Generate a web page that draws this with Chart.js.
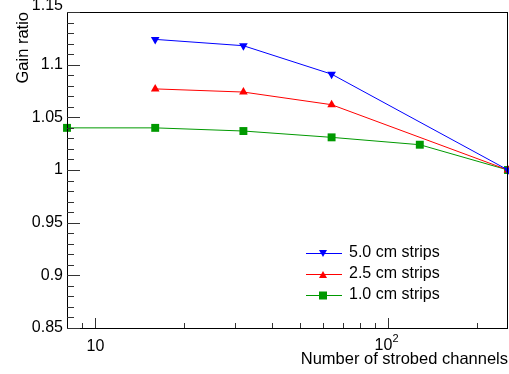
<!DOCTYPE html>
<html>
<head>
<meta charset="utf-8">
<script src="https://cdn.jsdelivr.net/npm/chart.js@4/dist/chart.umd.min.js"></script>
<style>
    html, body { margin: 0; padding: 0; background: #fff; }
    #wrap { width: 509px; height: 374px; position: relative; }
</style>
</head>
<body>
<div id="wrap"><canvas id="gainChart"></canvas></div>
<script>
// Data
const channels50 = [16, 32, 64, 256];
const gain50 = [1.124, 1.118, 1.091, 1.0];
const channels25 = [16, 32, 64, 256];
const gain25 = [1.077, 1.074, 1.062, 1.0];
const channels10 = [8, 16, 32, 64, 128, 256];
const gain10 = [1.040, 1.040, 1.037, 1.031, 1.024, 1.0];

const seriesLabels = ['5.0 cm strips', '2.5 cm strips', '1.0 cm strips'];

// Axis ticks
const yMajorTicks = [0.85, 0.9, 0.95, 1.0, 1.05, 1.1, 1.15];
const yTickLabels = ['0.85', '0.9', '0.95', '1', '1.05', '1.1', '1.15'];
const yMinorTicks = [0.86, 0.87, 0.88, 0.89, 0.91, 0.92, 0.93, 0.94, 0.96, 0.97, 0.98, 0.99,
    1.01, 1.02, 1.03, 1.04, 1.06, 1.07, 1.08, 1.09, 1.11, 1.12, 1.13, 1.14];
const xMajorTicks = [10, 100];
const xMinorTicks = [9, 20, 30, 40, 50, 60, 70, 80, 90, 200];

const FONT = '16px "Liberation Sans", Arial, sans-serif';

function toPoints(xs, ys) {
    return xs.map((x, i) => ({ x: x, y: ys[i] }));
}

// ROOT-like frame, inward ticks, labels and legend
const rootFrame = {
    id: 'rootFrame',
    afterDraw(chart) {
        const ctx = chart.ctx;
        const a = chart.chartArea;
        const xs = chart.scales.x;
        const ys = chart.scales.y;
        ctx.save();

        // frame
        ctx.strokeStyle = '#000';
        ctx.lineWidth = 1;
        ctx.strokeRect(Math.round(a.left) + 0.5, Math.round(a.top) + 0.5,
            Math.round(a.right - a.left) - 1, Math.round(a.bottom - a.top));

        // y ticks
        ctx.strokeStyle = '#333';
        ctx.beginPath();
        yMajorTicks.forEach(v => {
            const y = Math.round(ys.getPixelForValue(v)) + 0.5;
            ctx.moveTo(a.left, y); ctx.lineTo(a.left + 13, y);
        });
        yMinorTicks.forEach(v => {
            const y = Math.round(ys.getPixelForValue(v)) + 0.5;
            ctx.moveTo(a.left, y); ctx.lineTo(a.left + 7, y);
        });
        // x ticks
        xMajorTicks.forEach(v => {
            const x = Math.round(xs.getPixelForValue(v)) + 0.5;
            ctx.moveTo(x, a.bottom); ctx.lineTo(x, a.bottom - 10);
        });
        xMinorTicks.forEach(v => {
            const x = Math.round(xs.getPixelForValue(v)) + 0.5;
            ctx.moveTo(x, a.bottom); ctx.lineTo(x, a.bottom - 5);
        });
        ctx.stroke();

        // y tick labels
        ctx.fillStyle = '#000';
        ctx.font = FONT;
        ctx.textAlign = 'right';
        ctx.textBaseline = 'middle';
        yMajorTicks.forEach((v, i) => {
            let y = ys.getPixelForValue(v);
            if (i === yMajorTicks.length - 1) y -= 6;
            ctx.fillText(yTickLabels[i], a.left - 4, y);
        });

        // x tick labels: 10 and 10^2
        ctx.textAlign = 'center';
        ctx.textBaseline = 'alphabetic';
        ctx.fillText('10', xs.getPixelForValue(10), 351);
        const x100 = xs.getPixelForValue(100);
        ctx.fillText('10', x100 - 5, 350);
        ctx.font = '11px "Liberation Sans", Arial, sans-serif';
        ctx.textAlign = 'left';
        ctx.fillText('2', x100 + 4, 342);

        // axis titles
        ctx.font = '16.5px "Liberation Sans", Arial, sans-serif';
        ctx.textAlign = 'right';
        ctx.fillText('Number of strobed channels', 508, 364);
        ctx.save();
        ctx.translate(28, 12);
        ctx.rotate(-Math.PI / 2);
        ctx.textAlign = 'right';
        ctx.fillText('Gain ratio', 0, 0);
        ctx.restore();

        // legend
        const rowsY = [253, 274, 295];
        chart.data.datasets.forEach((ds, i) => {
            const y = rowsY[i];
            ctx.strokeStyle = ds.borderColor;
            ctx.lineWidth = 1;
            ctx.beginPath();
            ctx.moveTo(306, y + 0.5); ctx.lineTo(342, y + 0.5);
            ctx.stroke();
            ctx.fillStyle = ds.borderColor;
            ctx.beginPath();
            if (ds.pointStyle === 'rect') {
                ctx.rect(323 - 4, y - 3.5, 8, 8);
            } else if (ds.pointRotation === 180) {
                ctx.moveTo(323 - 4, y - 3); ctx.lineTo(323 + 4, y - 3); ctx.lineTo(323, y + 4);
            } else {
                ctx.moveTo(323 - 4, y + 4); ctx.lineTo(323 + 4, y + 4); ctx.lineTo(323, y - 3);
            }
            ctx.fill();
            ctx.fillStyle = '#000';
            ctx.font = FONT;
            ctx.textAlign = 'left';
            ctx.textBaseline = 'middle';
            ctx.fillText(seriesLabels[i], 349, y);
        });

        ctx.restore();
    }
};

new Chart(document.getElementById('gainChart'), {
    type: 'line',
    data: {
        datasets: [
            {
                label: seriesLabels[0],
                data: toPoints(channels50, gain50),
                borderColor: '#0000ff',
                backgroundColor: '#0000ff',
                pointStyle: 'triangle',
                pointRotation: 180,
                pointRadius: 5
            },
            {
                label: seriesLabels[1],
                data: toPoints(channels25, gain25),
                borderColor: '#ff0000',
                backgroundColor: '#ff0000',
                pointStyle: 'triangle',
                pointRadius: 5
            },
            {
                label: seriesLabels[2],
                data: toPoints(channels10, gain10),
                borderColor: '#009900',
                backgroundColor: '#009900',
                pointStyle: 'rect',
                pointRadius: 5.6
            }
        ]
    },
    options: {
        responsive: true,
        maintainAspectRatio: false,
        animation: false,
        datasets: {
            line: {
                borderWidth: 1,
                tension: 0,
                clip: false,
                pointBorderWidth: 0,
                pointHoverRadius: 5
            }
        },
        layout: { autoPadding: false, padding: { left: 67, right: 1, top: 12, bottom: 46 } },
        scales: {
            x: { type: 'logarithmic', min: 8, max: 256, display: false },
            y: { type: 'linear', min: 0.85, max: 1.15, display: false }
        },
        plugins: {
            legend: { display: false },
            tooltip: { enabled: false }
        }
    },
    plugins: [rootFrame]
});
</script>
</body>
</html>
